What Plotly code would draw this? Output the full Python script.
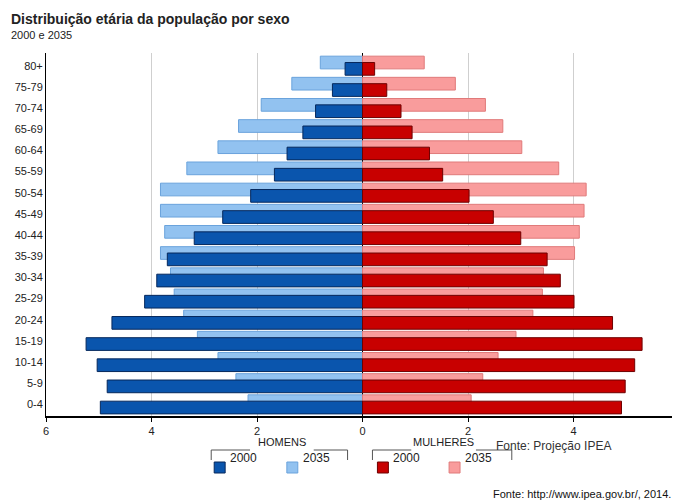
import plotly.graph_objects as go

ages = ["0-4", "5-9", "10-14", "15-19", "20-24", "25-29", "30-34", "35-39", "40-44",
        "45-49", "50-54", "55-59", "60-64", "65-69", "70-74", "75-79", "80+"]
homens_2000 = [4.97, 4.84, 5.03, 5.24, 4.75, 4.13, 3.90, 3.70, 3.19, 2.65, 2.12, 1.67, 1.43, 1.13, 0.89, 0.57, 0.33]
homens_2035 = [2.17, 2.40, 2.74, 3.13, 3.39, 3.57, 3.64, 3.83, 3.75, 3.83, 3.83, 3.33, 2.74, 2.35, 1.92, 1.34, 0.80]
mulheres_2000 = [4.91, 4.98, 5.16, 5.30, 4.74, 4.01, 3.75, 3.50, 3.00, 2.48, 2.02, 1.52, 1.27, 0.94, 0.73, 0.46, 0.23]
mulheres_2035 = [2.06, 2.28, 2.57, 2.91, 3.23, 3.41, 3.43, 4.02, 4.11, 4.20, 4.24, 3.72, 3.02, 2.66, 2.33, 1.76, 1.17]

idx = list(range(len(ages)))
up = [i + 0.15 for i in idx]
down = [i - 0.15 for i in idx]

# plot area in pixels
L, R, T, B = 38, 674, 45, 408
def px(x):
    return (x - L) / (R - L)
def py(y):
    return (B - y) / (B - T)

fig = go.Figure()
def bar(x, y, fill, line):
    fig.add_trace(go.Bar(x=x, y=y, orientation="h", width=0.6, showlegend=False,
                         marker=dict(color=fill, line=dict(color=line, width=1))))

bar([-v for v in homens_2035], up, "#92c2f0", "#6aa3dc")
bar(mulheres_2035, up, "#f99c9c", "#e07a7a")
bar([-v for v in homens_2000], down, "#0a55ad", "#06285c")
bar(mulheres_2000, down, "#c80000", "#6e0000")

fig.update_layout(
    width=680, height=500, barmode="overlay", plot_bgcolor="white", paper_bgcolor="white",
    margin=dict(l=L, r=680 - R, t=T, b=500 - B),
    font=dict(family="Liberation Sans, Arial", size=11, color="#222"),
    xaxis=dict(range=[-6, 6], tickvals=[-6, -4, -2, 0, 2, 4, 6], ticktext=["6", "4", "2", "0", "2", "4", "6"],
               showgrid=True, gridcolor="#cfcfcf", zeroline=True, zerolinecolor="#000", zerolinewidth=1,
               showline=True, linecolor="#000", linewidth=2, ticks="outside", ticklen=4, tickcolor="#000"),
    yaxis=dict(range=[-0.55, 16.6], tickvals=idx, ticktext=ages, showgrid=False, zeroline=False,
               showline=True, linecolor="#000", linewidth=1, ticks=""),
)

ann = [
    dict(x=px(1), y=py(1), yanchor="top", xanchor="left", text="<b>Distribuição etária da população por sexo</b>", font=dict(size=14)),
    dict(x=px(1), y=py(19), yanchor="top", xanchor="left", text="2000 e 2035", font=dict(size=11)),
    dict(x=px(608), y=py(447), text="Fonte: Projeção IPEA", font=dict(size=12, color="#333")),
    dict(x=px(668), y=py(494), xanchor="right", text="Fonte: http://www.ipea.gov.br/, 2014.", font=dict(size=11, color="#111")),
    dict(x=px(275), y=py(442), text="HOMENS", font=dict(size=11)),
    dict(x=px(437), y=py(442), text="MULHERES", font=dict(size=11)),
]

shapes = []
def line(x0, y0, x1, y1):
    shapes.append(dict(type="line", xref="paper", yref="paper", x0=px(x0), x1=px(x1), y0=py(y0), y1=py(y1),
                       line=dict(color="#555", width=1)))
for x0, x1, tx0, tx1 in [(204, 341, 243, 307), (366, 506, 405, 470)]:
    line(x0, 442, tx0, 442)
    line(tx1, 442, x1, 442)
    line(x0, 442, x0, 452)
    line(x1, 442, x1, 452)

items = [(213, "#0a55ad", "#06285c", "2000"), (286, "#92c2f0", "#6aa3dc", "2035"),
         (377, "#c80000", "#6e0000", "2000"), (449, "#f99c9c", "#e07a7a", "2035")]
for x, fill, lc, lab in items:
    shapes.append(dict(type="rect", xref="paper", yref="paper", x0=px(x - 6), x1=px(x + 5), y0=py(465), y1=py(454),
                       fillcolor=fill, line=dict(color=lc, width=1)))
    ann.append(dict(x=px(x + 8), y=py(459), xanchor="left", text=lab, font=dict(size=12)))

for a in ann:
    a.update(xref="paper", yref="paper", showarrow=False)
fig.update_layout(shapes=shapes, annotations=ann)

fig.write_html("out.html")
